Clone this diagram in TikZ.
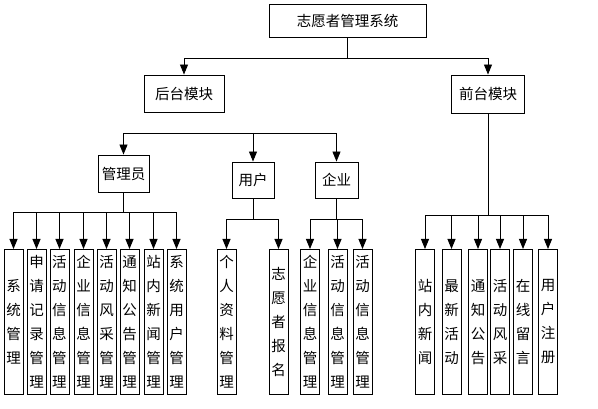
\documentclass[tikz,border=0pt]{standalone}
\usepackage{fontspec}
\newfontfamily\cjk{Noto Sans CJK SC}
\usetikzlibrary{arrows.meta}

\tikzset{
    box/.style={draw, line width=0.9pt, inner sep=0pt, align=center,
        font={\cjk\fontsize{14.5}{24}\selectfont}},
    vbox/.style={box, anchor=north, minimum width=19, minimum height=145}
}

\begin{document}
\begin{tikzpicture}[x=1pt, y=-1pt, >={Triangle[length=10pt,width=8pt]}, line width=0.9pt]
    \useasboundingbox (0,0) rectangle (598,409);

    % Top levels
    \node [box, minimum width=157, minimum height=33] (sys)   at (347.5,20.5) {志愿者管理系统};
    \node [box, minimum width=80, minimum height=37]  (back)  at (184,93.5)   {后台模块};
    \node [box, minimum width=73, minimum height=38]  (front) at (488,94)     {前台模块};

    % Back end roles
    \node [box, minimum width=51, minimum height=37]  (adm) at (123.5,173.5) {管理员};
    \node [box, minimum width=42, minimum height=36]  (usr) at (253,180)     {用户};
    \node [box, minimum width=43, minimum height=36]  (ent) at (336.5,180)   {企业};
    \coordinate (bar) at (253,133);

    % Admin functions
    \node [vbox] (a1) at (13.5,249)  {系\\统\\管\\理};
    \node [vbox] (a2) at (36.5,249)  {申\\请\\记\\录\\管\\理};
    \node [vbox] (a3) at (59.5,249)  {活\\动\\信\\息\\管\\理};
    \node [vbox] (a4) at (83.5,249)  {企\\业\\信\\息\\管\\理};
    \node [vbox] (a5) at (106.5,249) {活\\动\\风\\采\\管\\理};
    \node [vbox] (a6) at (129.5,249) {通\\知\\公\\告\\管\\理};
    \node [vbox] (a7) at (153.5,249) {站\\内\\新\\闻\\管\\理};
    \node [vbox] (a8) at (176.5,249) {系\\统\\用\\户\\管\\理};

    % User functions
    \node [vbox] (u1) at (226.5,249) {个\\人\\资\\料\\管\\理};
    \node [vbox] (u2) at (278.5,249) {志\\愿\\者\\报\\名};

    % Company functions
    \node [vbox] (e1) at (310,249)   {企\\业\\信\\息\\管\\理};
    \node [vbox] (e2) at (337.5,249) {活\\动\\信\\息\\管\\理};
    \node [vbox] (e3) at (362.5,249) {活\\动\\信\\息\\管\\理};

    % Front end functions
    \node [vbox] (f1) at (425,249)   {站\\内\\新\\闻};
    \node [vbox] (f2) at (451.5,249) {最\\新\\活\\动};
    \node [vbox] (f3) at (478,249)   {通\\知\\公\\告};
    \node [vbox] (f4) at (500,249)   {活\\动\\风\\采};
    \node [vbox] (f5) at (523,249)   {在\\线\\留\\言};
    \node [vbox] (f6) at (548,249)   {用\\户\\注\\册};

    % Paths
    \draw [->] (sys.south) -- ++(0,21) -| (back.north);
    \draw [->] (sys.south) -- ++(0,21) -| (front.north);

    \draw [->] (bar) -| (adm.north);
    \draw [->] (bar) -- (usr.north);
    \draw [->] (bar) -| (ent.north);

    \draw [->] (adm.south) -- ++(0,20) -| (a1.north);
    \draw [->] (adm.south) -- ++(0,20) -| (a2.north);
    \draw [->] (adm.south) -- ++(0,20) -| (a3.north);
    \draw [->] (adm.south) -- ++(0,20) -| (a4.north);
    \draw [->] (adm.south) -- ++(0,20) -| (a5.north);
    \draw [->] (adm.south) -- ++(0,20) -| (a6.north);
    \draw [->] (adm.south) -- ++(0,20) -| (a7.north);
    \draw [->] (adm.south) -- ++(0,20) -| (a8.north);

    \draw [->] (usr.south) -- ++(0,21) -| (u1.north);
    \draw [->] (usr.south) -- ++(0,21) -| (u2.north);

    \draw [->] (ent.south) -- ++(0,21) -| (e1.north);
    \draw [->] (ent.south) -- ++(0,21) -| (e2.north);
    \draw [->] (ent.south) -- ++(0,21) -| (e3.north);

    \draw [->] (front.south) -- ++(0,102) -| (f1.north);
    \draw [->] (front.south) -- ++(0,102) -| (f2.north);
    \draw [->] (front.south) -- ++(0,102) -| (f3.north);
    \draw [->] (front.south) -- ++(0,102) -| (f4.north);
    \draw [->] (front.south) -- ++(0,102) -| (f5.north);
    \draw [->] (front.south) -- ++(0,102) -| (f6.north);
\end{tikzpicture}
\end{document}
